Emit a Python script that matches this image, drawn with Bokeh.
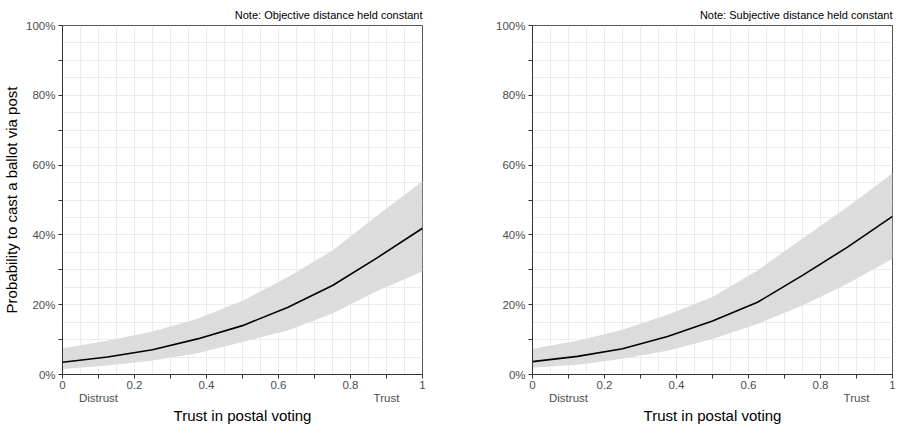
from bokeh.plotting import figure
from bokeh.layouts import row
from bokeh.models import (FixedTicker, LinearAxis, NumeralTickFormatter, CustomJSTickFormatter,
                          Range1d, ColumnDataSource)
from bokeh.embed import file_html
from bokeh.resources import INLINE

# ---- data ----
trust = [0, 0.125, 0.25, 0.375, 0.5, 0.625, 0.75, 0.875, 1]
obj_mean = [0.035, 0.050, 0.071, 0.102, 0.140, 0.192, 0.255, 0.335, 0.419]
obj_lower = [0.016, 0.026, 0.040, 0.061, 0.093, 0.126, 0.175, 0.240, 0.295]
obj_upper = [0.075, 0.097, 0.123, 0.160, 0.211, 0.279, 0.355, 0.456, 0.554]
sub_mean = [0.037, 0.052, 0.074, 0.109, 0.153, 0.207, 0.284, 0.365, 0.453]
sub_lower = [0.019, 0.028, 0.045, 0.068, 0.102, 0.145, 0.198, 0.260, 0.332]
sub_upper = [0.074, 0.097, 0.128, 0.171, 0.222, 0.298, 0.390, 0.480, 0.577]

notes = ["Note: Objective distance held constant", "Note: Subjective distance held constant"]
x_title = "Trust in postal voting"
y_title = "Probability to cast a ballot via post"
x_major = [0, 0.2, 0.4, 0.6, 0.8, 1]
x_minor = [0.1, 0.3, 0.5, 0.7, 0.9]
y_major = [0, 0.2, 0.4, 0.6, 0.8, 1]
y_minor = [0.1, 0.3, 0.5, 0.7, 0.9]
grid_steps = [i / 20 for i in range(21)]
end_labels = [0.1, 0.9]

FONT = "Liberation Sans"
AX = "#333333"
TICKTXT = "#4d4d4d"


def make_panel(mean, lower, upper, note, left_border, right_border, show_ylabel):
    p = figure(frame_width=360, frame_height=349, output_backend="svg", toolbar_location=None,
               x_range=Range1d(0, 1), y_range=Range1d(0, 1),
               min_border_left=left_border, min_border_right=right_border,
               min_border_top=25, min_border_bottom=51,
               background_fill_color="white", border_fill_color="white")
    p.outline_line_color = "#555555"
    p.outline_line_width = 1

    src = ColumnDataSource(dict(x=trust, m=mean, lo=lower, hi=upper))
    p.varea(x="x", y1="lo", y2="hi", source=src, fill_color="#dcdcdc", fill_alpha=1.0)
    p.line(x="x", y="m", source=src, line_color="black", line_width=1.6)

    # grids
    p.xgrid.ticker = FixedTicker(ticks=grid_steps)
    p.ygrid.ticker = FixedTicker(ticks=grid_steps)
    for g in (p.xgrid, p.ygrid):
        g.grid_line_color = "#ebebeb"
        g.grid_line_width = 1

    # x axis
    xa = p.xaxis[0]
    xa.ticker = FixedTicker(ticks=x_major, minor_ticks=x_minor)
    xa.major_label_overrides = {0: "0", 1: "1"}
    xa.major_tick_out = 4
    xa.major_tick_in = 0
    xa.minor_tick_out = 4
    xa.minor_tick_in = 0
    xa.axis_line_color = AX
    xa.major_tick_line_color = AX
    xa.minor_tick_line_color = AX
    xa.major_label_text_font = FONT
    xa.major_label_text_font_size = "11.5px"
    xa.major_label_text_color = TICKTXT
    xa.major_label_standoff = 2

    xa2 = LinearAxis(ticker=FixedTicker(ticks=end_labels),
                     formatter=CustomJSTickFormatter(code="return tick < 0.5 ? 'Distrust' : 'Trust';"))
    xa2.axis_line_color = None
    xa2.major_tick_line_color = None
    xa2.minor_tick_line_color = None
    xa2.major_tick_out = 0
    xa2.major_tick_in = 0
    xa2.major_label_standoff = 0
    xa2.major_label_text_font = FONT
    xa2.major_label_text_font_size = "11.5px"
    xa2.major_label_text_color = TICKTXT
    xa2.axis_label = x_title
    xa2.axis_label_text_font = FONT
    xa2.axis_label_text_font_size = "15px"
    xa2.axis_label_text_font_style = "normal"
    xa2.axis_label_text_color = "black"
    xa2.axis_label_standoff = 0
    p.add_layout(xa2, "below")

    # y axis
    ya = p.yaxis[0]
    ya.ticker = FixedTicker(ticks=y_major, minor_ticks=y_minor)
    ya.formatter = NumeralTickFormatter(format="0%")
    ya.major_tick_out = 4
    ya.major_tick_in = 0
    ya.minor_tick_out = 4
    ya.minor_tick_in = 0
    ya.axis_line_color = AX
    ya.major_tick_line_color = AX
    ya.minor_tick_line_color = AX
    ya.major_label_text_font = FONT
    ya.major_label_text_font_size = "11.5px"
    ya.major_label_text_color = TICKTXT
    ya.major_label_standoff = 3
    if show_ylabel:
        ya.axis_label = y_title
        ya.axis_label_text_font = FONT
        ya.axis_label_text_font_size = "15px"
        ya.axis_label_text_font_style = "normal"
        ya.axis_label_text_color = "black"
        ya.axis_label_standoff = 3

    p.title.text = note
    p.title.align = "right"
    p.title.text_font = FONT
    p.title.text_font_size = "11px"
    p.title.text_font_style = "normal"
    p.title.text_color = "black"
    p.title.standoff = 10
    return p


p1 = make_panel(obj_mean, obj_lower, obj_upper, notes[0], 61, 27, True)
p2 = make_panel(sub_mean, sub_lower, sub_upper, notes[1], 83, 6, False)
layout = row(p1, p2)

open("out.html", "w").write(file_html(layout, INLINE))
